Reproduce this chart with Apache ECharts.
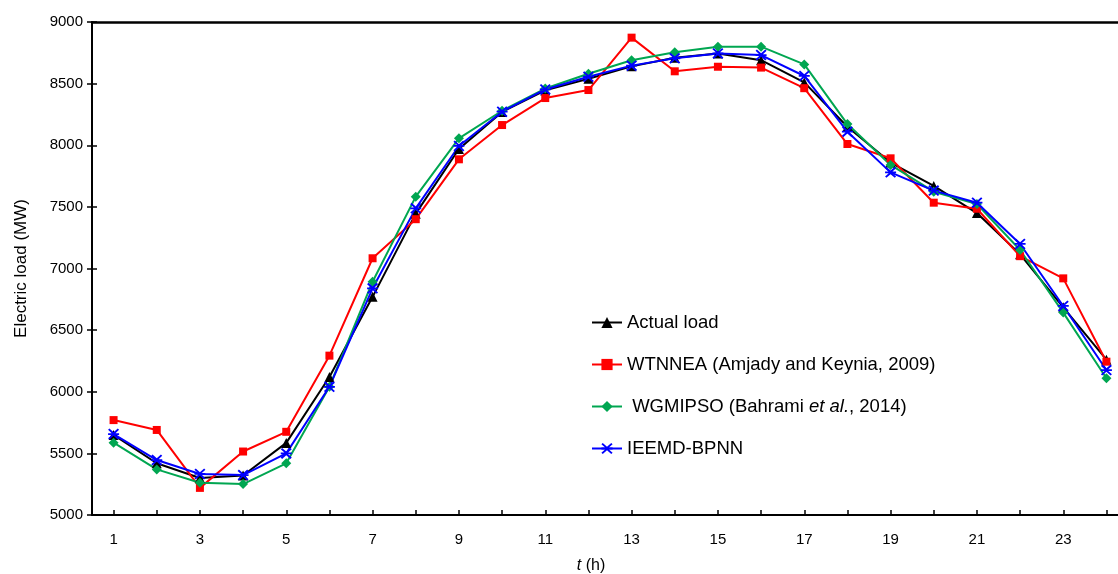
<!DOCTYPE html>
<html>
<head>
<meta charset="utf-8">
<script src="https://cdn.jsdelivr.net/npm/echarts@6/dist/echarts.min.js"></script>
<style>html,body{margin:0;padding:0;background:#fff;}#c{width:1118px;height:574px;}</style>
</head>
<body>
<div id="c"></div>
<script>
const hours = ['1','2','3','4','5','6','7','8','9','10','11','12','13','14','15','16','17','18','19','20','21','22','23','24'];
const actualLoad = [5650, 5420, 5300, 5320, 5585, 6120, 6770, 7445, 7970, 8270, 8445, 8540, 8640, 8710, 8745, 8690, 8510, 8150, 7860, 7670, 7450, 7115, 6685, 6260];
const wtnnea = [5770, 5690, 5220, 5515, 5675, 6293, 7083, 7400, 7886, 8164, 8383, 8448, 8873, 8600, 8637, 8630, 8463, 8010, 7894, 7534, 7485, 7100, 6920, 6244];
const wgmipso = [5587, 5370, 5262, 5251, 5419, 6041, 6893, 7583, 8056, 8280, 8460, 8580, 8690, 8754, 8800, 8800, 8656, 8172, 7840, 7623, 7523, 7150, 6642, 6109];
const ieemd = [5657, 5446, 5333, 5324, 5500, 6040, 6839, 7488, 7994, 8272, 8453, 8556, 8646, 8705, 8745, 8732, 8562, 8110, 7780, 7632, 7534, 7199, 6696, 6176];
const yMin = 5000, yMax = 9000, yStep = 500;
const seriesNames = ['Actual load', 'WTNNEA (Amjady and Keynia, 2009)', 'WGMIPSO (Bahrami et al., 2014)', 'IEEMD-BPNN'];

const FONT = '"Liberation Sans", Arial, sans-serif';
const starPath = 'path://M1.2,0 L5,3.4 L8.8,0 L10,1.2 L6.7,4.2 L10,4.2 L10,5.8 L6.7,5.8 L10,8.8 L8.8,10 L5,6.6 L1.2,10 L0,8.8 L3.3,5.8 L0,5.8 L0,4.2 L3.3,4.2 L0,1.2 Z';

const chart = echarts.init(document.getElementById('c'), null, {renderer: 'canvas'});
function mk(name, data, color, symbol, size) {
  return {
    name: name, type: 'line', data: data, xAxisIndex: 0, yAxisIndex: 0,
    symbol: symbol, symbolSize: size, showSymbol: true,
    lineStyle: {color: color, width: 2},
    itemStyle: {color: color},
    animation: false
  };
}
chart.setOption({
  animation: false,
  grid: {left: 92, right: -10, top: 22, bottom: 59, containLabel: false, outerBoundsMode: 'none'},
  legend: {
    orient: 'vertical', left: 586, top: 308,
    itemWidth: 30, itemHeight: 14, itemGap: 23,
    data: seriesNames,
    formatter: function (n) {
      if (n.indexOf('et al.') >= 0) {
        return '{n| WGMIPSO (Bahrami }{i|et al.}{n|, 2014)}';
      }
      return '{n|' + n + '}';
    },
    textStyle: {
      fontFamily: FONT, fontSize: 18.5, color: '#000',
      rich: {
        n: {fontFamily: FONT, fontSize: 18.5, color: '#000'},
        i: {fontFamily: FONT, fontSize: 18.5, color: '#000', fontStyle: 'italic'}
      }
    }
  },
  xAxis: [{
    type: 'category', data: hours, boundaryGap: true, position: 'bottom',
    axisLine: {show: true, lineStyle: {color: '#000', width: 2}},
    axisTick: {show: false},
    axisLabel: {interval: 1, color: '#000', fontFamily: FONT, fontSize: 15, margin: 17},
    splitLine: {show: false},
    name: '{i|t} (h)', nameLocation: 'middle', nameGap: 43,
    nameTextStyle: {fontFamily: FONT, fontSize: 16, color: '#000', padding: [0, 38, 0, 0],
      rich: {i: {fontFamily: FONT, fontSize: 16, fontStyle: 'italic', color: '#000'}}}
  }, {
    type: 'category', data: hours, boundaryGap: true, position: 'top',
    axisLine: {show: true, lineStyle: {color: '#000', width: 2.5}},
    axisTick: {show: false}, axisLabel: {show: false}, splitLine: {show: false}
  }, {
    type: 'category', data: hours, boundaryGap: true, position: 'bottom', offset: -5,
    axisLine: {show: false},
    axisTick: {show: true, length: 5, alignWithLabel: true, interval: 0, lineStyle: {color: '#000', width: 1.5}},
    axisLabel: {show: false}, splitLine: {show: false}
  }],
  yAxis: [{
    type: 'value', min: yMin, max: yMax, interval: yStep, position: 'left',
    axisLine: {show: true, lineStyle: {color: '#000', width: 2}},
    axisTick: {show: true, length: 5, lineStyle: {color: '#000', width: 1.5}},
    axisLabel: {color: '#000', fontFamily: FONT, fontSize: 15, margin: 9, formatter: function (v) { return String(v); }},
    splitLine: {show: false},
    name: 'Electric load (MW)', nameLocation: 'middle', nameGap: 62, nameRotate: 90,
    nameTextStyle: {fontFamily: FONT, fontSize: 17, color: '#000'}
  }, {
    type: 'value', min: yMin, max: yMax, interval: yStep, position: 'left', offset: -5,
    axisLine: {show: false},
    axisTick: {show: true, length: 5, lineStyle: {color: '#000', width: 1.5}},
    axisLabel: {show: false}, splitLine: {show: false}
  }],
  series: [
    mk(seriesNames[0], actualLoad, '#000000', 'triangle', 10),
    mk(seriesNames[1], wtnnea, '#ff0000', 'rect', 8),
    mk(seriesNames[2], wgmipso, '#00a651', 'diamond', 10),
    mk(seriesNames[3], ieemd, '#0000ff', starPath, 11)
  ]
});
</script>
</body>
</html>
